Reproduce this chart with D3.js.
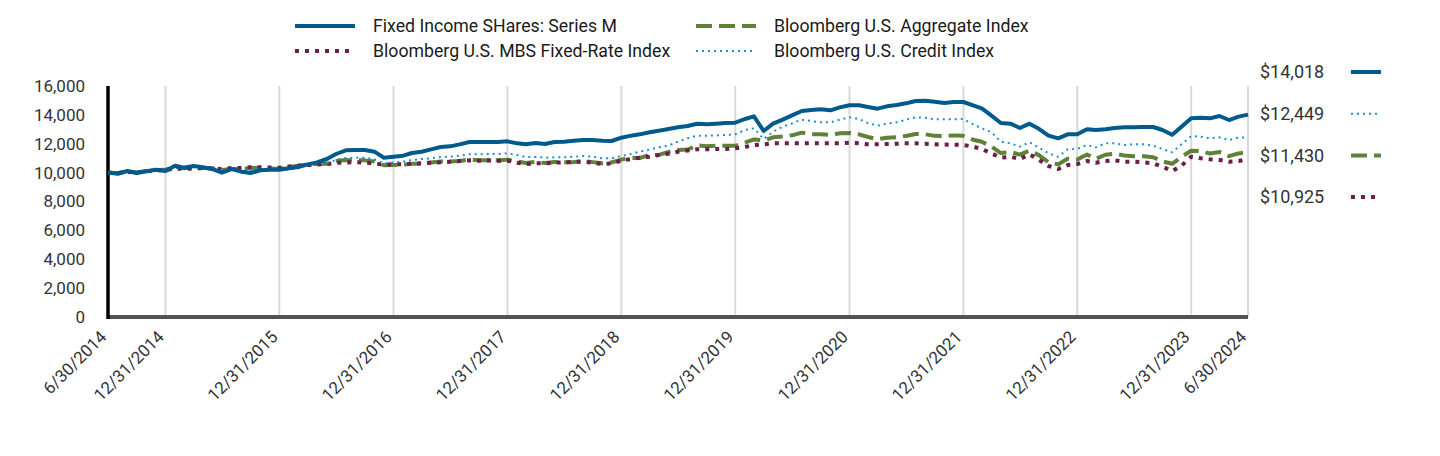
<!DOCTYPE html>
<html>
<head>
<meta charset="utf-8">
<script src="https://cdn.jsdelivr.net/npm/d3@7"></script>
<style>
  html, body { margin: 0; padding: 0; background: #fff; }
  svg { display: block; font-family: Roboto, "Noto Sans", sans-serif; }
</style>
</head>
<body>
<svg id="chart" width="1440" height="456"></svg>
<script>
// ---------- DATA ----------
const seriesNames = [
  "Fixed Income SHares: Series M",
  "Bloomberg U.S. Aggregate Index",
  "Bloomberg U.S. MBS Fixed-Rate Index",
  "Bloomberg U.S. Credit Index"
];

const tickLabels = ["6/30/2014","12/31/2014","12/31/2015","12/31/2016","12/31/2017",
  "12/31/2018","12/31/2019","12/31/2020","12/31/2021","12/31/2022","12/31/2023","6/30/2024"];

const yTicks = [0, 2000, 4000, 6000, 8000, 10000, 12000, 14000, 16000];

const endLabels = ["$14,018", "$12,449", "$11,430", "$10,925"];

// monthly values, 6/30/2014 .. 6/30/2024 (121 points)
const fixedIncome = [
  10000, 9925, 10112, 9973, 10090, 10204, 10112, 10480, 10342, 10458,
  10366, 10250, 9995, 10250, 10065, 9973, 10158, 10204, 10204, 10297,
  10389, 10574, 10712, 10943, 11290, 11545, 11566, 11566, 11450, 11034,
  11103, 11172, 11359, 11450, 11612, 11774, 11820, 11959, 12120, 12120,
  12120, 12120, 12167, 12028, 11959, 12051, 11982, 12120, 12144, 12213,
  12259, 12259, 12213, 12190, 12421, 12560, 12652, 12791, 12906, 13021,
  13137, 13229, 13390, 13344, 13390, 13437, 13460, 13714, 13899, 12883,
  13390, 13668, 13968, 14268, 14337, 14383, 14314, 14522, 14661, 14661,
  14545, 14429, 14591, 14683, 14799, 14960, 14983, 14914, 14822, 14891,
  14891, 14660, 14452, 13945, 13437, 13390, 13090, 13390, 13021, 12560,
  12375, 12652, 12652, 12998, 12952, 12998, 13090, 13137, 13137, 13160,
  13160, 12952, 12620, 13183, 13760, 13807, 13760, 13922, 13644, 13876,
  14018
];

const aggregate = [
  10000, 9975, 10085, 10016, 10114, 10186, 10195,
  10409, 10311, 10359, 10322, 10297, 10185, 10256, 10242, 10312, 10314, 10287, 10254,
  10395, 10469, 10565, 10605, 10608, 10799, 10867, 10855, 10849, 10766, 10511, 10526,
  10547, 10618, 10613, 10695, 10777, 10766, 10812, 10909, 10857, 10864, 10850, 10900,
  10775, 10673, 10741, 10662, 10738, 10725, 10727, 10796, 10727, 10642, 10706, 10903,
  11019, 11012, 11223, 11226, 11426, 11570, 11595, 11895, 11832, 11868, 11862, 11854,
  12082, 12299, 12227, 12445, 12504, 12582, 12769, 12666, 12660, 12603, 12726, 12744,
  12652, 12470, 12314, 12411, 12452, 12539, 12680, 12656, 12546, 12542, 12580, 12547,
  12277, 12139, 11802, 11355, 11428, 11249, 11523, 11197, 10713, 10574, 10963, 10914,
  11250, 10959, 11237, 11306, 11182, 11142, 11134, 11063, 10782, 10612, 11093, 11518,
  11487, 11325, 11429, 11140, 11329, 11430
];

const mbs = [
  10000, 9960, 10040, 10010, 10090, 10160, 10180, 10280, 10260, 10300,
  10300, 10290, 10240, 10320, 10330, 10380, 10370, 10350, 10340, 10420,
  10480, 10520, 10560, 10600, 10680, 10700, 10720, 10700, 10620, 10570,
  10574, 10574, 10620, 10643, 10689, 10712, 10758, 10804, 10851, 10828,
  10851, 10828, 10828, 10689, 10597, 10643, 10643, 10689, 10712, 10758,
  10758, 10689, 10597, 10643, 10828, 10943, 11034, 11103, 11220, 11312,
  11450, 11530, 11612, 11612, 11636, 11636, 11682, 11774, 11913, 11959,
  12028, 12028, 12028, 12028, 12028, 12028, 12028, 12028, 12075, 12028,
  11959, 11959, 11982, 11995, 12028, 12028, 12005, 11959, 11940, 11936,
  11913, 11798, 11636, 11337, 11034, 11103, 10943, 11270, 10874, 10458,
  10250, 10527, 10597, 10804, 10689, 10804, 10851, 10758, 10758, 10712,
  10643, 10412, 10112, 10480, 11103, 10990, 10920, 10874, 10758, 10804,
  10925
];

const credit = [
  10000, 9980, 10120, 10031, 10129, 10208, 10194, 10492, 10404, 10436,
  10370, 10310, 10137, 10213, 10134, 10187, 10246, 10226, 10171, 10239,
  10300, 10531, 10660, 10652, 10883, 11008, 11030, 11024, 10922, 10632,
  10700, 10758, 10874, 10943, 10990, 11082, 11103, 11172, 11270, 11270,
  11290, 11290, 11337, 11220, 11082, 11082, 11034, 11060, 11060, 11103,
  11150, 11103, 10990, 10990, 11150, 11290, 11450, 11590, 11752, 11867,
  12144, 12375, 12560, 12560, 12583, 12606, 12652, 12952, 13067, 12329,
  12837, 13183, 13414, 13668, 13575, 13483, 13483, 13668, 13830, 13714,
  13437, 13252, 13390, 13483, 13668, 13830, 13807, 13691, 13691, 13691,
  13714, 13344, 13067, 12791, 12144, 12028, 11798, 12098, 11729, 11337,
  11103, 11612, 11636, 11913, 11752, 12028, 12028, 11913, 11959, 11959,
  11867, 11636, 11406, 11959, 12536, 12490, 12375, 12444, 12259, 12420,
  12449
];

// ---------- SETUP ----------
const svg = d3.select("#chart");
const parse = d3.timeParse("%m/%d/%Y");
const startMonth = new Date(2014, 6, 1);
const dates = d3.range(fixedIncome.length).map(i =>
  d3.timeDay.offset(d3.timeMonth.offset(startMonth, i), -1));

const X0 = 108, X1 = 1248, YT = 86, YB = 317;
const x = d3.scaleTime().domain([dates[0], dates[dates.length - 1]]).range([X0, X1]);
const y = d3.scaleLinear().domain([0, 16000]).range([YB, YT]);

const styles = {
  fi:     { color: "#005a8c", width: 4,   dash: null },
  agg:    { color: "#5f8138", width: 4,   dash: "16,7" },
  mbs:    { color: "#6b1d4b", width: 4,   dash: "4,6" },
  credit: { color: "#1b8fd2", width: 2,   dash: "2,4" }
};

const FS = 17.7;

// gridlines (vertical)
const tickDates = tickLabels.map(parse);
svg.append("g").selectAll("line").data(tickDates.slice(1)).join("line")
  .attr("x1", d => x(d)).attr("x2", d => x(d))
  .attr("y1", YT).attr("y2", YB)
  .attr("stroke", "#d9d9d9").attr("stroke-width", 2);

// y axis labels
const yAxis = d3.axisLeft(y).tickValues(yTicks).tickFormat(d3.format(",")).tickSize(0).tickPadding(23);
const gy = svg.append("g").attr("transform", `translate(${X0},0)`).call(yAxis);
gy.select(".domain").remove();
gy.selectAll("text").attr("font-size", 17).attr("fill", "#333").attr("font-family", "Roboto");

// x axis labels
const xAxis = d3.axisBottom(x).tickValues(tickDates).tickFormat((d, i) => tickLabels[i]).tickSize(0).tickPadding(0);
const gx = svg.append("g").attr("transform", `translate(0,${YB})`).call(xAxis);
gx.select(".domain").remove();
gx.selectAll("text")
  .attr("font-size", 17).attr("fill", "#333").attr("font-family", "Roboto")
  .attr("text-anchor", "end")
  .attr("dy", null).attr("y", null)
  .attr("transform", "translate(-1,21) rotate(-45)");

// axis lines
svg.append("line").attr("x1", X0).attr("x2", X1).attr("y1", YB).attr("y2", YB)
  .attr("stroke", "#505258").attr("stroke-width", 4);
svg.append("line").attr("x1", X0).attr("x2", X0).attr("y1", YT).attr("y2", YB + 2)
  .attr("stroke", "#000").attr("stroke-width", 3.5);

// lines
const line = d3.line().x((d, i) => x(dates[i])).y(d => y(d));
const drawOrder = [["agg", aggregate], ["mbs", mbs], ["credit", credit], ["fi", fixedIncome]];
drawOrder.forEach(([k, data]) => {
  const s = styles[k];
  svg.append("path").datum(data).attr("d", line)
    .attr("fill", "none").attr("stroke", s.color).attr("stroke-width", s.width)
    .attr("stroke-linejoin", "round")
    .attr("stroke-dasharray", s.dash);
});

// legend
const legendItems = [
  { key: "fi",     name: seriesNames[0], lx: 295, ly: 26 },
  { key: "mbs",    name: seriesNames[2], lx: 295, ly: 51 },
  { key: "agg",    name: seriesNames[1], lx: 696, ly: 26 },
  { key: "credit", name: seriesNames[3], lx: 696, ly: 51 }
];
const lg = svg.append("g");
legendItems.forEach(it => {
  const s = styles[it.key];
  lg.append("line").attr("x1", it.lx).attr("x2", it.lx + 60).attr("y1", it.ly).attr("y2", it.ly)
    .attr("stroke", s.color).attr("stroke-width", s.width).attr("stroke-dasharray", s.dash);
  lg.append("text").attr("x", it.lx + 78).attr("y", it.ly).attr("dy", "0.35em")
    .attr("font-size", FS).attr("fill", "#1a1a1a").text(it.name);
});

// end value labels
const endItems = [
  { key: "fi", label: endLabels[0] },
  { key: "credit", label: endLabels[1] },
  { key: "agg", label: endLabels[2] },
  { key: "mbs", label: endLabels[3] }
];
const eg = svg.append("g");
endItems.forEach((it, i) => {
  const s = styles[it.key];
  const yy = 72 + i * 41.7;
  eg.append("text").attr("x", 1260).attr("y", yy).attr("dy", "0.35em")
    .attr("font-size", 18).attr("fill", "#333").text(it.label);
  eg.append("line").attr("x1", 1351).attr("x2", 1381).attr("y1", yy).attr("y2", yy)
    .attr("stroke", s.color).attr("stroke-width", s.width).attr("stroke-dasharray", s.dash);
});
</script>
</body>
</html>
